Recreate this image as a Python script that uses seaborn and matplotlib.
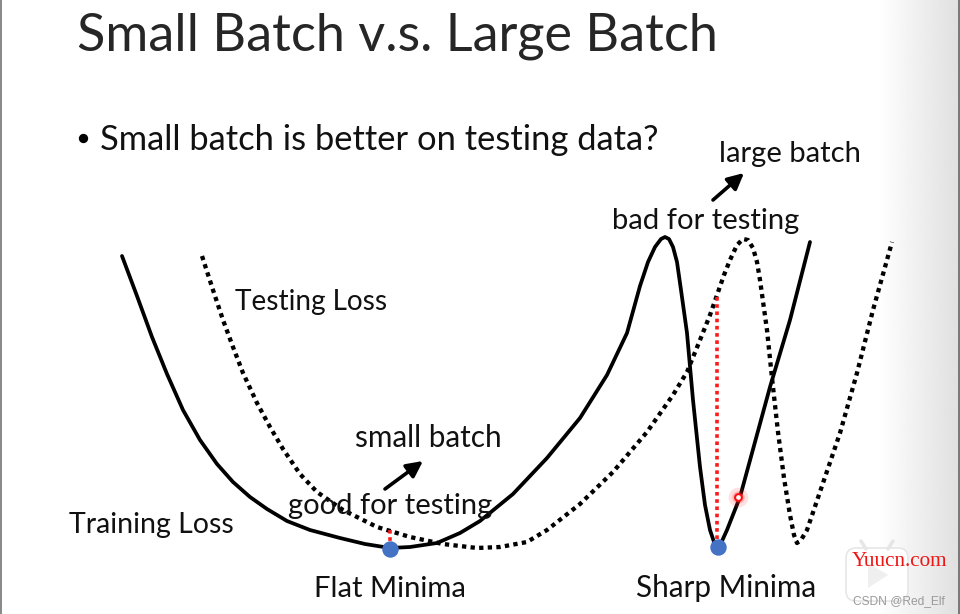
import numpy as np
import pandas as pd
import matplotlib
matplotlib.use("Agg")
import matplotlib.pyplot as plt
from matplotlib.patches import FancyBboxPatch, Polygon, Rectangle
import seaborn as sns

# ---------------- data (pixel-space coordinates) ----
train_x = [122, 137, 152, 167, 183, 200, 217, 233, 250, 267, 287, 310, 340, 365,
           390, 410, 437, 460, 480, 513, 547, 580, 607, 627, 640, 648, 655, 661,
           665, 669, 673, 677, 681, 687, 693, 700, 705, 710, 714, 718, 722, 727,
           740, 770, 790, 810]
train_y = [256, 296, 337, 374, 410, 440, 464, 482, 497, 509, 521, 530, 538, 544,
           548, 547, 543, 533, 521, 494, 458, 418, 375, 333, 286, 262, 247, 239,
           237, 239, 247, 262, 290, 333, 400, 467, 505, 530, 542, 547, 541, 530,
           497, 387, 320, 242]

test_x = [202, 213, 223, 233, 243, 257, 270, 283, 300, 317, 343, 377, 410, 443,
          477, 500, 527, 547, 580, 613, 647, 673, 687, 700, 710, 717, 724, 730,
          737, 743, 748, 753, 757, 760, 767, 772, 778, 784, 790, 794, 797, 801,
          807, 823, 840, 857, 873, 892]
test_y = [256, 290, 320, 347, 373, 403, 427, 449, 474, 492, 510, 527, 537, 544,
          548, 547, 542, 530, 504, 472, 432, 395, 372, 340, 315, 295, 275, 260,
          245, 239, 240, 248, 262, 280, 330, 378, 432, 478, 515, 535, 543, 540,
          530, 483, 433, 373, 310, 242]

minima_x = [390, 718]
minima_y = [549, 547]
minima_labels = ["Flat Minima", "Sharp Minima"]

gap_flat_x = [390, 390]
gap_flat_y = [530, 546]
gap_sharp_x = [717, 717]
gap_sharp_y = [297, 541]

title = "Small Batch v.s. Large Batch"
bullet = "Small batch is better on testing data?"

# ---------------- figure ----------------
sns.set_theme(style="white")
plt.rcParams["font.family"] = ["Lato", "DejaVu Sans"]

W, H = 960, 614
fig = plt.figure(figsize=(W / 100, H / 100), dpi=100)
ax = fig.add_axes([0, 0, 1, 1])
ax.set_xlim(0, W)
ax.set_ylim(H, 0)
ax.axis("off")

# right-edge shading of the slide screenshot
grad = np.linspace(1.0, 0.88, 80)[None, :]
grad = np.repeat(grad, 10, axis=0)
ax.imshow(grad, cmap="gray", vmin=0, vmax=1, extent=(878, 958, H, 0),
          aspect="auto", zorder=0, interpolation="bilinear")
ax.add_patch(Rectangle((0, 0), 1.5, H, color="#8a8a8a", zorder=1, lw=0))
ax.add_patch(Rectangle((957.5, 0), 2.5, H, color="#7a7a7a", zorder=1, lw=0))

df_train = pd.DataFrame({"x": train_x, "y": train_y})
df_test = pd.DataFrame({"x": test_x, "y": test_y})

sns.lineplot(data=df_train, x="x", y="y", sort=False, estimator=None, ax=ax,
             color="black", lw=2.7, zorder=3, solid_joinstyle="round")
sns.lineplot(data=df_test, x="x", y="y", sort=False, estimator=None, ax=ax,
             color="black", lw=3.1, linestyle=(0, (1, 1.0)), zorder=3)

sns.lineplot(x=gap_flat_x, y=gap_flat_y, sort=False, estimator=None, ax=ax,
             color="#ff1a1a", lw=2.6, linestyle=(0, (1, 1.0)), zorder=4)
sns.lineplot(x=gap_sharp_x, y=gap_sharp_y, sort=False, estimator=None, ax=ax,
             color="#ff1a1a", lw=2.6, linestyle=(0, (1, 1.0)), zorder=4)

ax.scatter(minima_x, minima_y, s=140, color="#4472C4", zorder=6, lw=0)

# red glow point
ax.scatter([738], [497], s=200, color="#ff3030", alpha=0.15, lw=0, zorder=6)
ax.scatter([738], [497], s=80, color="#ff3030", alpha=0.25, lw=0, zorder=6)
ax.scatter([738], [497], s=24, facecolor="white", edgecolor="#ff1010", lw=1.5, zorder=7)

renderer = fig.canvas.get_renderer()


def fit_text(s, x0, x1, y, base=20, **kw):
    t = ax.text(x0, y, s, ha="left", va="baseline", fontsize=base, zorder=8, **kw)
    w = t.get_window_extent(renderer).width
    t.set_fontsize(base * (x1 - x0) / w)
    return t


fit_text(title, 77, 718, 50, color="#262626")
ax.scatter([83], [138], s=45, color="black", lw=0, zorder=8)
fit_text(bullet, 100, 660, 150, color="#111111")
fit_text("large batch", 719, 861, 162, color="#111111")
fit_text("bad for testing", 612, 800, 229, color="#111111")
fit_text("Testing Loss", 235, 387, 310, color="#111111")
fit_text("small batch", 355, 502, 447, color="#111111")
fit_text("good for testing", 288, 492, 514, color="#111111")
fit_text("Training Loss", 69, 234, 533, color="#111111")
fit_text(minima_labels[0], 314, 466, 597, color="#111111")
fit_text(minima_labels[1], 636, 817, 597, color="#111111")

arrow_kw = dict(arrowstyle="-|>,head_length=0.8,head_width=0.4", color="black",
                lw=2.6, shrinkA=0, shrinkB=0)
ax.annotate("", xy=(744, 173), xytext=(713, 200), arrowprops=arrow_kw, zorder=8)
ax.annotate("", xy=(423, 461), xytext=(385, 489), arrowprops=arrow_kw, zorder=8)

# watermark
ax.add_patch(FancyBboxPatch((846, 548), 62, 53, boxstyle="round,pad=0,rounding_size=10",
                            facecolor="white", edgecolor="#e6e6e6", lw=1.2, zorder=2))
ax.plot([861, 866], [541, 549], color="#e6e6e6", lw=2.5, zorder=2)
ax.plot([893, 888], [541, 549], color="#e6e6e6", lw=2.5, zorder=2)
ax.add_patch(Polygon([[868, 563], [868, 588], [888, 575]], closed=True,
                     facecolor="#efefef", edgecolor="none", zorder=2))
t1 = ax.text(852, 566, "Yuucn.com", ha="left", va="baseline", color="#ee1515",
             family=["Liberation Serif", "DejaVu Serif"], fontsize=12, zorder=9)
w1 = t1.get_window_extent(renderer).width
t1.set_fontsize(12 * 96 / w1)
t2 = ax.text(853, 604, "CSDN @Red_Elf", ha="left", va="baseline", color="#9a9a9a",
             family=["Liberation Sans", "DejaVu Sans"], fontsize=9, zorder=9)
w2 = t2.get_window_extent(renderer).width
t2.set_fontsize(9 * 92 / w2)

fig.savefig("out.png", dpi=100)
